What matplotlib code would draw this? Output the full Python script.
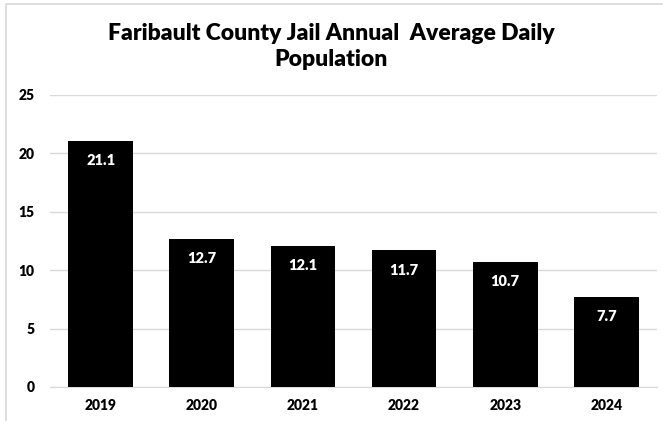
import matplotlib.pyplot as plt
from matplotlib.patches import Rectangle

years = ["2019", "2020", "2021", "2022", "2023", "2024"]
population = [21.1, 12.7, 12.1, 11.7, 10.7, 7.7]
yticks = [0, 5, 10, 15, 20, 25]

plt.rcParams['font.family'] = ['Lato', 'DejaVu Sans']
W = 'heavy'

fig = plt.figure(figsize=(6.63, 4.21), dpi=100)
# plot area in pixels: x 50..657, y 95..387
ax = fig.add_axes([50 / 663, 1 - 387 / 421, 607 / 663, 292 / 421])

# outer chart border (only top/left visible in reference)
fig.patches.append(Rectangle((6 / 663, -0.1), 1.2, 1 - 4 / 421 + 0.1,
                             transform=fig.transFigure, fill=False,
                             edgecolor='#d9d9d9', linewidth=1.2))

x = range(len(years))
bars = ax.bar(x, population, width=0.64, color='black', zorder=3)
for xi, v in zip(x, population):
    ax.text(xi, v - 1.7, f"{v}", ha='center', va='center', color='white',
            fontsize=10.5, fontweight=W, zorder=4)

ax.set_ylim(0, 25)
ax.set_xlim(-0.5, len(years) - 0.5)
ax.set_yticks(yticks)
ax.set_xticks(list(x))
ax.set_xticklabels(years)
ax.yaxis.grid(True, color='#d9d9d9', linewidth=1, zorder=0)
ax.tick_params(length=0, labelsize=10)
for lbl in ax.get_xticklabels() + ax.get_yticklabels():
    lbl.set_fontweight(W)
ax.tick_params(axis='x', pad=9)
ax.tick_params(axis='y', pad=11)
for s in ['top', 'right', 'left']:
    ax.spines[s].set_visible(False)
ax.spines['bottom'].set_color('#d9d9d9')

fig.text(0.5, 1 - 33 / 421, "Faribault County Jail Annual  Average Daily",
         ha='center', va='center', fontsize=16.5, fontweight=W)
fig.text(0.5, 1 - 60 / 421, "Population",
         ha='center', va='center', fontsize=16.5, fontweight=W)

fig.savefig("out.png", dpi=100)
